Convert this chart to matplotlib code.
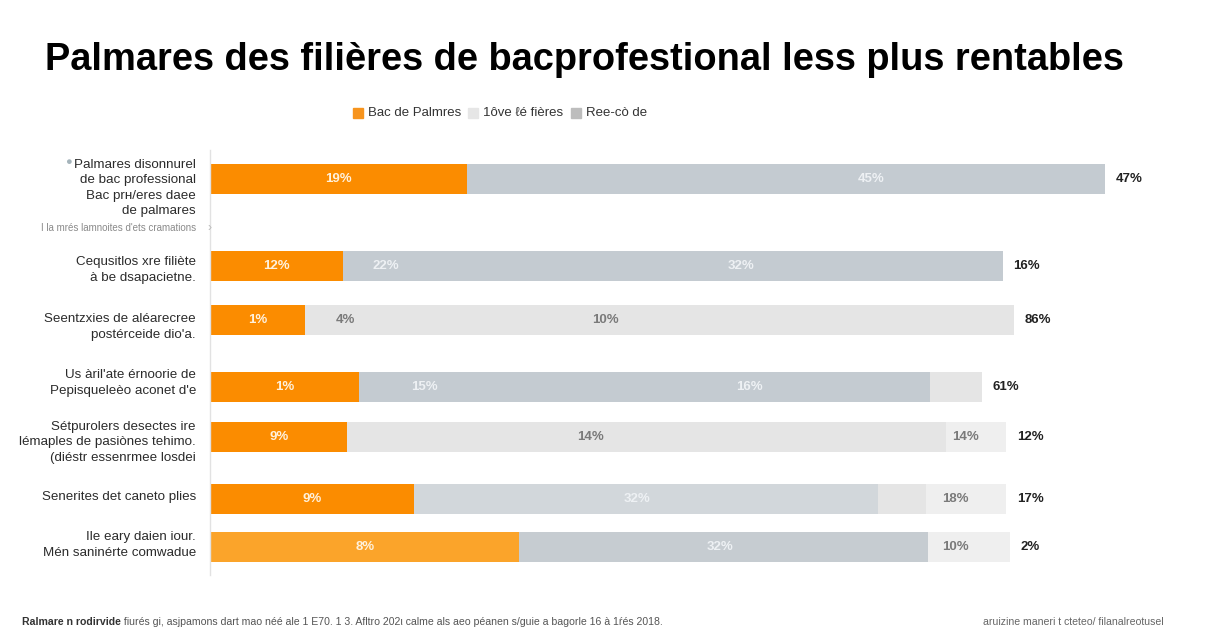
import matplotlib
matplotlib.use("Agg")
import matplotlib.pyplot as plt
import matplotlib.transforms as mtransforms
import numpy as np

# ---------------- data ----------------
title = "Palmares des filières de bacprofestional less plus rentables"

categories = [
    "Palmares disonnurel\nde bac professional\nBac prн/eres daee\nde palmares",
    "Cequsitlos xre filiète\nà be dsapacietne.",
    "Seentzxies de aléarecree\npostérceide dio'a.",
    "Us àril'ate érnoorie de\nPepisqueleèo aconet d'e",
    "Sétpurolers desectes ire\nlémaples de pasiònes tehimo.\n(diéstr essenrmee losdei",
    "Senerites det caneto plies",
    "Ile eary daien iour.\nMén saninérte comwadue",
]
gap_label = "I la mrés lamnoites d'ets cramations"

series_names = ["Bac de Palmres", "1ôve ℓé fières", "Ree-cò de"]

# segment widths (share of axis)
orange_vals = [28.2, 14.6, 10.4, 16.4, 15.1, 22.4, 34.0]
medium_vals = [70.1, 72.5, 0.0, 62.7, 0.0, 51.0, 44.9]
light_vals = [0.0, 0.0, 77.9, 5.7, 65.8, 5.3, 0.0]
lightest_vals = [0.0, 0.0, 0.0, 0.0, 6.6, 8.8, 9.0]

orange_labels = ["19%", "12%", "1%", "1%", "9%", "9%", "8%"]
end_labels = ["47%", "16%", "86%", "61%", "12%", "17%", "2%"]

# inner gray labels: (row, position, text, on_dark)
gray_labels = [
    (0, 72.7, "45%", True),
    (1, 19.3, "22%", True), (1, 58.4, "32%", True),
    (2, 14.9, "4%", False), (2, 43.5, "10%", False),
    (3, 23.6, "15%", True), (3, 59.3, "16%", True),
    (4, 41.8, "14%", False), (4, 83.0, "14%", False),
    (5, 46.9, "32%", True), (5, 81.9, "18%", False),
    (6, 56.0, "32%", True), (6, 81.9, "10%", False),
]

footer_bold = "Ralmare n rodirvide"
footer_rest = " fiurés gi, asjpamons dart mao néé ale 1 E70. 1 3. Afltro 202ι calme als aeo péanen s/guie a bagorle 16 à 1ŕés 2018."
footer_right = "aruizine maneri t cteteo/ filanalreotusel"

# ---------------- layout / style ----------------
row_pos = [0.97, 3.87, 5.67, 7.9, 9.57, 11.63, 13.23]
gap_pos = 2.6
bar_h = 1.0

c_orange = ["#fb8c00"] * 6 + ["#fba42a"]
c_medium = ["#c4cbd1"] * 5 + ["#d2d7db", "#c6ccd1"]
c_light = ["#e5e5e5"] * 7
c_lightest = ["#efefef"] * 7

plt.rcParams["font.family"] = ["Liberation Sans", "DejaVu Sans"]

fig = plt.figure(figsize=(12.16, 6.4), dpi=100)
fig.patch.set_facecolor("white")
ax = fig.add_axes([210 / 1216, 1 - 575 / 640, 910 / 1216, 425 / 640])

y = np.array(row_pos)
o = np.array(orange_vals)
m = np.array(medium_vals)
l = np.array(light_vals)
ll = np.array(lightest_vals)

ax.barh(y, o, height=bar_h, color=c_orange, edgecolor="none")
ax.barh(y, m, left=o, height=bar_h, color=c_medium, edgecolor="none")
ax.barh(y, l, left=o + m, height=bar_h, color=c_light, edgecolor="none")
ax.barh(y, ll, left=o + m + l, height=bar_h, color=c_lightest, edgecolor="none")

ax.set_xlim(0, 100)
ax.set_ylim(425 / 30, 0)
ax.set_xticks([])
ax.set_yticks([])
for s in ["top", "right", "bottom"]:
    ax.spines[s].set_visible(False)
ax.spines["left"].set_color("#e2e2e2")
ax.spines["left"].set_linewidth(1.0)

# orange labels
for yi, oi, t in zip(y, o, orange_labels):
    ax.text(oi / 2, yi, t, ha="center", va="center", fontsize=9.5,
            fontweight="bold", color="#fff1dc")

# gray labels
for r, xpos, t, dark in gray_labels:
    ax.text(xpos, y[r], t, ha="center", va="center", fontsize=9.5,
            fontweight="bold", color="#eef1f4" if dark else "#7a7a7a")

# end labels
ends = o + m + l + ll
for yi, e, t in zip(y, ends, end_labels):
    ax.text(e + 1.2, yi, t, ha="left", va="center", fontsize=9.5,
            fontweight="bold", color="#222222")

# category labels
trans = mtransforms.blended_transform_factory(ax.transAxes, ax.transData)
label_offsets = [0.3, 0.13, 0.23, -0.13, 0.17, -0.07, -0.07]
for yi, cat, off in zip(y, categories, label_offsets):
    ax.text(-0.0154, yi + off, cat, transform=trans, ha="right", va="center",
            fontsize=9.6, color="#2b2b2b", linespacing=1.38)
fig.text(68 / 1216, 1 - 162 / 640, "●", fontsize=8, color="#a5b4bb",
         ha="center", va="center")
ax.text(-0.0154, gap_pos, gap_label, transform=trans, ha="right", va="center",
        fontsize=7, color="#8a8a8a")
ax.text(-0.003, gap_pos, "›", transform=trans, ha="left", va="center",
        fontsize=9, color="#bbbbbb")

# title
fig.text(45 / 1216, 1 - 60 / 640, title, fontsize=27.4, fontweight="bold",
         color="#000000", ha="left", va="center")

# legend
legend_items = [("#f7941d", series_names[0]), ("#e6e6e6", series_names[1]),
                ("#bdbdbd", series_names[2])]
leg_x = [353, 468, 571]
for (col, name), px in zip(legend_items, leg_x):
    fig.patches.append(plt.Rectangle((px / 1216, 1 - 118 / 640), 10 / 1216, 10 / 640,
                                     transform=fig.transFigure, color=col))
    fig.text((px + 15) / 1216, 1 - 113 / 640, name, fontsize=9.5, color="#333333",
             ha="left", va="center")

# footer
t1 = fig.text(22 / 1216, 1 - 622 / 640, footer_bold, fontsize=7.6, fontweight="bold",
              color="#333333", ha="left", va="center")
plt.annotate(footer_rest, xy=(1, 0.5), xycoords=t1, ha="left", va="center",
             fontsize=7.6, color="#555555", annotation_clip=False)
fig.text(1164 / 1216, 1 - 622 / 640, footer_right, fontsize=7.6, color="#666666",
         ha="right", va="center")

fig.savefig("out.png", dpi=100, facecolor="white")
